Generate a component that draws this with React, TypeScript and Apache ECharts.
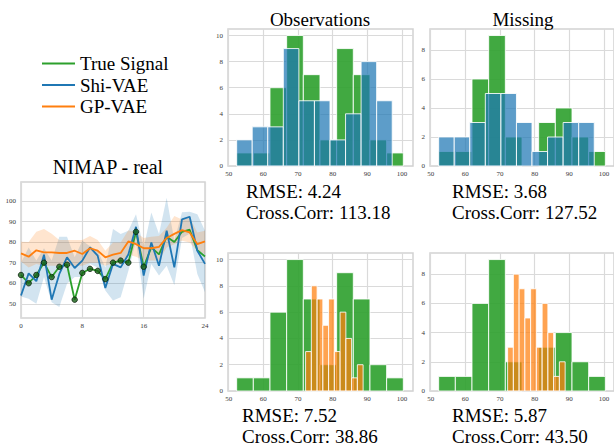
import React, { useEffect, useRef } from "react";
import * as echarts from "echarts";

const FONT = "Liberation Serif";

// ---- Time series (NIMAP - real) ----
const timeSteps = [0, 1, 2, 3, 4, 5, 6, 7, 8, 9, 10, 11, 12, 13, 14, 15, 16, 17, 18, 19, 20, 21, 22, 23, 24];
const trueSignal = [64, 60, 64, 70, 63, 68, 69, 52, 65, 67, 66, 62, 70, 71, 70, 85, 68, 77.4, 74, 82.6, 80, 85, 86, 76, 73];
const observedSteps = [0, 1, 2, 3, 4, 5, 6, 7, 8, 9, 10, 11, 12, 13, 14, 15, 16];
const shiVAE = [54, 64.8, 61, 73.9, 52, 64.5, 72.6, 67.4, 71, 77.4, 73.4, 57.7, 69.4, 67.7, 74, 87.4, 63.7, 79.8, 68.5, 85.5, 67.7, 91, 92.3, 75.8, 69.4];
const shiUpper = [70, 77.4, 71, 77, 71, 82.6, 82.6, 72.6, 80.6, 78, 75.8, 67.7, 86.3, 83.9, 85.5, 93.5, 77.4, 94.4, 83.9, 101.6, 80.6, 94.5, 94.8, 93.5, 85.5];
const shiLower = [53.5, 52.4, 50, 63, 50.8, 48.4, 59.7, 63, 63, 69.4, 67.7, 56.5, 51.6, 53.2, 66, 80.6, 52.4, 69.4, 63.7, 68.5, 59, 82, 84, 64.5, 55.6];
const gpVAE = [74.5, 72.9, 76, 75, 75, 74.7, 74.7, 75.8, 74.2, 77, 75.8, 72.6, 73.9, 74.7, 80.3, 79, 77, 77, 77.7, 82, 84, 85.8, 84.7, 79, 80.3];
const gpUpper = [80.2, 80, 85, 86.3, 84, 81, 81, 81, 81, 83, 81, 75.8, 79.8, 79.8, 85.8, 84.7, 82, 82.6, 83, 87, 92.7, 91, 92, 84.7, 85.5];
const gpLower = [70.5, 67.7, 69.4, 68.5, 68.5, 68.5, 68.5, 68.5, 68.5, 70, 70, 68.5, 69.7, 70, 74, 72.9, 71, 71, 71, 77.4, 79, 80.6, 79.8, 75.8, 74.2];
const lineXTicks = [0, 8, 16, 24];
const lineYTicks = [50, 60, 70, 80, 90, 100];

// ---- Histograms ----
const trueEdges = [52.3, 57.11, 61.92, 66.73, 71.54, 76.35, 81.16, 85.97, 90.78, 95.59, 100.4];
const shiEdges = [52.3, 56.79, 61.28, 65.77, 70.26, 74.75, 79.24, 83.73, 88.22, 92.71, 97.2];
const gpEdges = [72.2, 73.86, 75.52, 77.18, 78.84, 80.5, 82.16, 83.82, 85.48, 87.14, 88.8];
const obsTrueCounts = [1, 1, 6, 10, 7, 2, 9, 7, 2, 1];
const obsShiCounts = [2, 3, 3, 9, 5, 5, 2, 4, 8, 5];
const obsGpCounts = [3, 8, 7, 5, 7, 3, 6, 4, 1, 2];
const missTrueCounts = [1, 1, 6, 9, 2, 0, 3, 4, 2, 1];
const missShiCounts = [2, 2, 3, 5, 5, 3, 1, 2, 3, 3];
const missGpCounts = [3, 8, 7, 5, 7, 3, 6, 4, 1, 2];
const histXTicks = [50, 60, 70, 80, 90, 100];
const obsYTicks = [0, 2, 4, 6, 8, 10];
const missYTicks = [0, 2, 4, 6, 8];

const metrics = [
  { rmse: "RMSE: 4.24", corr: "Cross.Corr: 113.18", x: 246, y: 191 },
  { rmse: "RMSE: 3.68", corr: "Cross.Corr: 127.52", x: 452, y: 191 },
  { rmse: "RMSE: 7.52", corr: "Cross.Corr: 38.86", x: 242, y: 415 },
  { rmse: "RMSE: 5.87", corr: "Cross.Corr: 43.50", x: 452, y: 415 },
];

const GREEN = "#2ca02c";
const BLUE = "#1f77b4";
const ORANGE = "#ff7f0e";
const GRIDLINE = "#dadada";
const tickLabel = { fontFamily: FONT, fontSize: 7, color: "#3a3a3a" };

function valueAxis(gridIndex: number, min: number, max: number, ticks: number[], isX: boolean) {
  return {
    type: "value",
    gridIndex,
    min,
    max,
    axisLine: { show: false },
    axisTick: { show: false, customValues: ticks },
    axisLabel: { ...tickLabel, customValues: ticks, margin: isX ? 4 : 5 },
    splitLine: { show: true, lineStyle: { color: GRIDLINE, width: 1.2 } },
  };
}

function histSeries(name: string, edges: number[], counts: number[], fill: string, axis: number) {
  return {
    type: "custom",
    name,
    xAxisIndex: axis,
    yAxisIndex: axis,
    silent: true,
    data: counts.map((c, i) => [edges[i], edges[i + 1], c]),
    encode: { x: [0, 1], y: 2 },
    renderItem: (params: any, api: any) => {
      const h = api.value(2);
      if (!h) return null;
      const p0 = api.coord([api.value(0), h]);
      const p1 = api.coord([api.value(1), 0]);
      return {
        type: "rect",
        shape: { x: p0[0], y: p0[1], width: p1[0] - p0[0], height: p1[1] - p0[1] },
        style: { fill, stroke: "rgba(255,255,255,0.85)", lineWidth: 1 },
      };
    },
  };
}

function bandSeries(name: string, upper: number[], lower: number[], fill: string) {
  return {
    type: "custom",
    name,
    xAxisIndex: 0,
    yAxisIndex: 0,
    silent: true,
    data: timeSteps.map((t, i) => [t, lower[i], upper[i]]),
    encode: { x: 0, y: [1, 2] },
    renderItem: (params: any, api: any) => {
      if (params.dataIndex !== 0) return null;
      const pts: number[][] = [];
      timeSteps.forEach((t, i) => pts.push(api.coord([t, upper[i]])));
      for (let i = timeSteps.length - 1; i >= 0; i--) pts.push(api.coord([timeSteps[i], lower[i]]));
      return { type: "polygon", shape: { points: pts }, style: { fill } };
    },
  };
}

function lineSeries(name: string, values: number[], color: string) {
  return {
    type: "line",
    name,
    xAxisIndex: 0,
    yAxisIndex: 0,
    data: timeSteps.map((t, i) => [t, values[i]]),
    symbol: "none",
    itemStyle: { color },
    lineStyle: { color, width: 1.8 },
  };
}

function text(str: string, x: number, y: number, size: number, align: string) {
  return {
    type: "text",
    x,
    y,
    style: {
      text: str,
      fontFamily: FONT,
      fontSize: size,
      fill: "#000",
      align,
      verticalAlign: "middle",
      textAlign: align,
      textVerticalAlign: "middle",
    },
  };
}

export default function App() {
  const ref = useRef<HTMLDivElement>(null);
  useEffect(() => {
    if (!ref.current) return;
    const chart = echarts.init(ref.current, null, { renderer: "svg" });
    const grids = [
      { left: 21, top: 182, width: 184, height: 136 },
      { left: 228, top: 29, width: 185, height: 137 },
      { left: 430, top: 29, width: 184, height: 137 },
      { left: 228, top: 253, width: 185, height: 138 },
      { left: 430, top: 253, width: 184, height: 138 },
    ].map((g) => ({ ...g, show: true, borderColor: "#d2d2d2", borderWidth: 1.5, backgroundColor: "transparent", outerBoundsMode: "none" }));

    const option: any = {
      animation: false,
      backgroundColor: "#fff",
      grid: grids,
      xAxis: [
        { ...valueAxis(0, 0, 24, lineXTicks, true), interval: 8 },
        valueAxis(1, 49.8, 103.2, histXTicks, true),
        valueAxis(2, 49.8, 102.9, histXTicks, true),
        valueAxis(3, 49.8, 103.2, histXTicks, true),
        valueAxis(4, 49.8, 102.9, histXTicks, true),
      ],
      yAxis: [
        valueAxis(0, 43.1, 109.2, lineYTicks, false),
        valueAxis(1, 0, 10.5, obsYTicks, false),
        valueAxis(2, 0, 9.45, missYTicks, false),
        valueAxis(3, 0, 10.5, obsYTicks, false),
        valueAxis(4, 0, 9.45, missYTicks, false),
      ],
      legend: {
        data: ["True Signal", "Shi-VAE", "GP-VAE"],
        orient: "vertical",
        left: 42,
        top: 54,
        padding: 0,
        icon: "rect",
        itemWidth: 33,
        itemHeight: 2,
        itemGap: 2.5,
        selectedMode: false,
        textStyle: { fontFamily: FONT, fontSize: 19, color: "#000", lineHeight: 18 },
      },
      graphic: [
        text("NIMAP - real", 108, 167, 20, "center"),
        text("Observations", 320, 19, 19, "center"),
        text("Missing", 523, 19, 19, "center"),
        ...metrics.flatMap((m) => [text(m.rmse, m.x, m.y, 19, "left"), text(m.corr, m.x, m.y + 21, 19, "left")]),
      ],
      series: [
        bandSeries("Shi-VAE band", shiUpper, shiLower, "rgba(31,119,180,0.2)"),
        bandSeries("GP-VAE band", gpUpper, gpLower, "rgba(255,127,14,0.2)"),
        lineSeries("True Signal", trueSignal, GREEN),
        lineSeries("Shi-VAE", shiVAE, BLUE),
        lineSeries("GP-VAE", gpVAE, ORANGE),
        {
          type: "scatter",
          name: "Observed",
          xAxisIndex: 0,
          yAxisIndex: 0,
          data: observedSteps.map((t) => [t, trueSignal[t]]),
          symbolSize: 5.5,
          itemStyle: { color: "#176117", borderColor: "#061806", borderWidth: 0.9 },
          z: 5,
        },
        histSeries("True (obs)", trueEdges, obsTrueCounts, "rgba(44,160,44,0.9)", 1),
        histSeries("Shi-VAE (obs)", shiEdges, obsShiCounts, "rgba(31,119,180,0.72)", 1),
        histSeries("True (miss)", trueEdges, missTrueCounts, "rgba(44,160,44,0.9)", 2),
        histSeries("Shi-VAE (miss)", shiEdges, missShiCounts, "rgba(31,119,180,0.72)", 2),
        histSeries("True (obs, GP)", trueEdges, obsTrueCounts, "rgba(44,160,44,0.9)", 3),
        histSeries("GP-VAE (obs)", gpEdges, obsGpCounts, "rgba(255,127,14,0.72)", 3),
        histSeries("True (miss, GP)", trueEdges, missTrueCounts, "rgba(44,160,44,0.9)", 4),
        histSeries("GP-VAE (miss)", gpEdges, missGpCounts, "rgba(255,127,14,0.72)", 4),
      ],
    };
    chart.setOption(option);
    return () => chart.dispose();
  }, []);
  return <div ref={ref} style={{ position: "absolute", left: 0, top: 0, width: 614, height: 445 }} />;
}
